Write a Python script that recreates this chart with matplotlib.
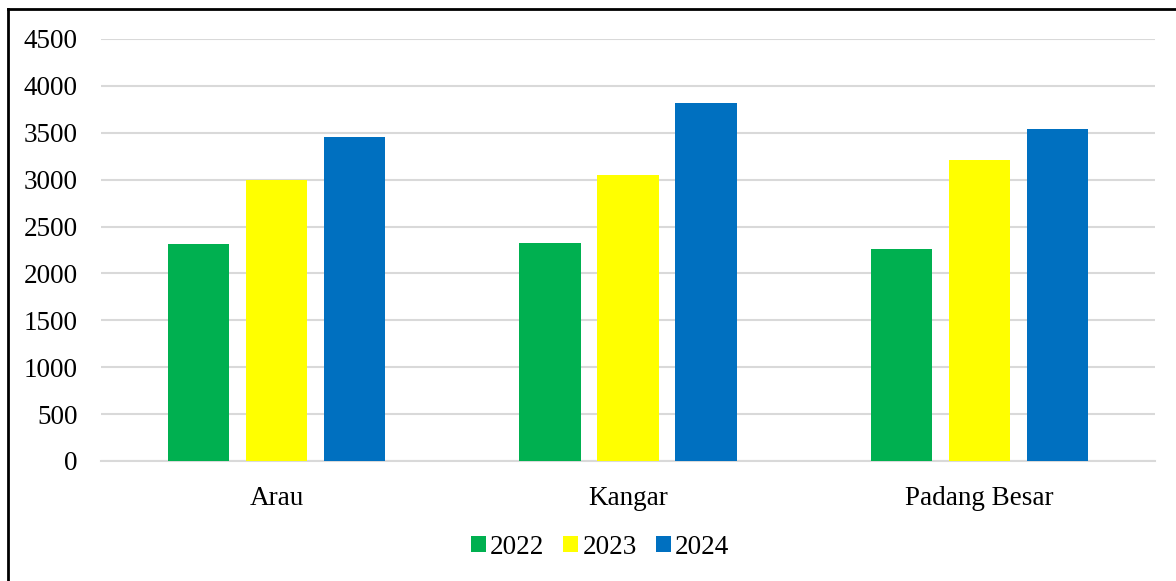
import matplotlib.pyplot as plt
import numpy as np
from matplotlib.lines import Line2D

towns = ['Arau', 'Kangar', 'Padang Besar']
years = ['2022', '2023', '2024']
v2022 = [2315, 2320, 2265]
v2023 = [3000, 3045, 3215]
v2024 = [3460, 3815, 3535]
colors = ['#00b050', '#ffff00', '#0070c0']

plt.rcParams['font.family'] = ['Liberation Serif', 'DejaVu Serif']

fig = plt.figure(figsize=(11.76, 5.81), dpi=100)
ax = fig.add_axes([101 / 1176, 1 - 461 / 581, 1054 / 1176, 422 / 581])

x = np.arange(len(towns))
w = 0.174
step = 0.222
for i, (vals, yr) in enumerate(zip([v2022, v2023, v2024], years)):
    ax.bar(x + (i - 1) * step, vals, w, color=colors[i], label=yr, zorder=3)

ax.set_xlim(-0.5, 2.5)
ax.set_ylim(0, 4500)
ax.set_yticks(np.arange(0, 4501, 500))
ax.set_xticks(x)
ax.set_xticklabels(towns)
ax.yaxis.grid(True, color='#d9d9d9', linewidth=1.5, zorder=0)
for s in ['top', 'right', 'left']:
    ax.spines[s].set_visible(False)
ax.spines['bottom'].set_color('#d9d9d9')
ax.spines['bottom'].set_linewidth(1.5)
ax.tick_params(axis='both', length=0, labelsize=19.5)
ax.tick_params(axis='y', pad=17)
ax.tick_params(axis='x', pad=18)

ax.legend(loc='center', bbox_to_anchor=(600 / 1176, 1 - 547 / 581),
          bbox_transform=fig.transFigure, ncol=3, frameon=False,
          fontsize=19.5, handlelength=0.55, handleheight=0.55,
          handletextpad=0.15, columnspacing=0.7)

# frame lines around the chart (left and top only visible)
fig.add_artist(Line2D([8 / 1176, 8 / 1176], [0, 1 - 9 / 581], color='black', linewidth=2, transform=fig.transFigure))
fig.add_artist(Line2D([8 / 1176, 1], [1 - 9 / 581, 1 - 9 / 581], color='black', linewidth=2, transform=fig.transFigure))

fig.savefig('out.png', dpi=100)
